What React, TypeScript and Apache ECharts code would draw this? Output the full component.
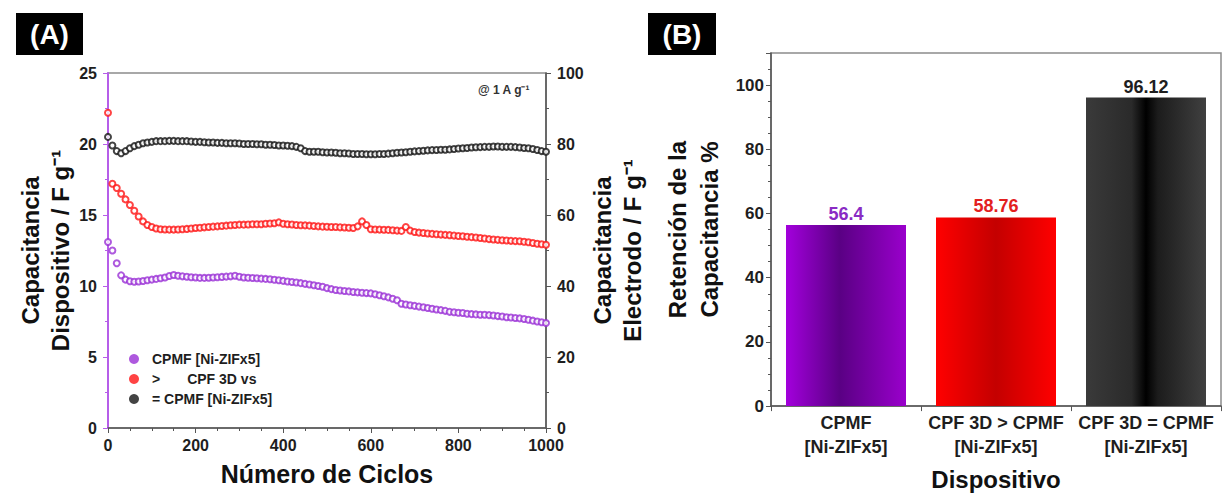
import React, { useEffect, useRef } from 'react';
import * as echarts from 'echarts';

// ---------- DATA ----------
const cycles = Array.from({ length: 101 }, (_, i) => i * 10);

// Device capacitance (F g-1), left axis — purple series
const cpmfNiZif = [
  13.1, 12.5, 11.6, 10.75, 10.45, 10.33, 10.3, 10.32, 10.35, 10.4,
  10.45, 10.5, 10.55, 10.6, 10.7, 10.78, 10.72, 10.68, 10.65, 10.62,
  10.6, 10.57, 10.57, 10.58, 10.6, 10.62, 10.64, 10.66, 10.68, 10.72,
  10.65, 10.6, 10.58, 10.56, 10.55, 10.52, 10.5, 10.47, 10.44, 10.4,
  10.36, 10.32, 10.28, 10.25, 10.2, 10.15, 10.1, 10.05, 10.0, 9.95,
  9.85, 9.78, 9.72, 9.68, 9.65, 9.62, 9.58, 9.55, 9.52, 9.5,
  9.48, 9.42, 9.35, 9.28, 9.2, 9.1, 9.0, 8.75, 8.7, 8.65,
  8.6, 8.55, 8.5, 8.45, 8.4, 8.35, 8.3, 8.25, 8.18, 8.15,
  8.12, 8.1, 8.05, 8.02, 8.0, 7.98, 7.97, 7.95, 7.92, 7.88,
  7.85, 7.8, 7.78, 7.75, 7.72, 7.68, 7.62, 7.56, 7.5, 7.45,
  7.4,
];

// red series
const cpf3dVs = [
  22.2, 17.2, 16.9, 16.5, 16.1, 15.7, 15.3, 14.9, 14.55, 14.3,
  14.15, 14.05, 14.0, 13.98, 13.97, 13.97, 13.98, 14.0, 14.02, 14.05,
  14.08, 14.1, 14.13, 14.15, 14.18, 14.2, 14.22, 14.25, 14.28, 14.3,
  14.32, 14.32, 14.33, 14.35, 14.35, 14.35, 14.38, 14.4, 14.42, 14.48,
  14.38, 14.35, 14.33, 14.3, 14.28, 14.27, 14.25, 14.23, 14.2, 14.18,
  14.17, 14.15, 14.15, 14.13, 14.12, 14.1, 14.08, 14.2, 14.55, 14.3,
  14.0, 13.98, 13.97, 13.96, 13.95, 13.93, 13.9, 13.88, 14.15, 13.9,
  13.8, 13.76, 13.73, 13.7, 13.67, 13.64, 13.62, 13.6, 13.58, 13.55,
  13.52, 13.5, 13.47, 13.44, 13.42, 13.38, 13.34, 13.3, 13.28, 13.25,
  13.22, 13.2, 13.18, 13.16, 13.15, 13.12, 13.08, 13.03, 12.98, 12.94,
  12.9,
];

// black series
const cpf3dEq = [
  20.5, 19.9, 19.5, 19.35, 19.5, 19.7, 19.85, 19.95, 20.05, 20.1,
  20.15, 20.2, 20.2, 20.2, 20.22, 20.22, 20.2, 20.2, 20.2, 20.18,
  20.15, 20.15, 20.12, 20.1, 20.1, 20.08, 20.08, 20.05, 20.05, 20.05,
  20.03, 20.0, 20.0, 20.0, 19.98, 19.98, 19.95, 19.95, 19.93, 19.9,
  19.9, 19.88, 19.85, 19.8, 19.7, 19.5, 19.45, 19.45, 19.45, 19.42,
  19.4, 19.4, 19.38, 19.35, 19.35, 19.33, 19.3, 19.3, 19.3, 19.28,
  19.28, 19.28, 19.3, 19.3, 19.32, 19.35, 19.38, 19.4, 19.42, 19.45,
  19.48, 19.5, 19.52, 19.55, 19.57, 19.58, 19.6, 19.6, 19.62, 19.65,
  19.68, 19.7, 19.72, 19.75, 19.77, 19.78, 19.8, 19.8, 19.82, 19.82,
  19.8, 19.8, 19.8, 19.78, 19.75, 19.72, 19.7, 19.65, 19.58, 19.5,
  19.45,
];

const seriesNames = ['CPMF [Ni-ZIFx5]', '>      CPF 3D vs', '= CPMF [Ni-ZIFx5]'];

const devices = ['CPMF\n[Ni-ZIFx5]', 'CPF 3D > CPMF\n[Ni-ZIFx5]', 'CPF 3D = CPMF\n[Ni-ZIFx5]'];
const retention = [56.4, 58.76, 96.12];

// ---------- STYLE ----------
const FONT = '"Liberation Sans", Arial, Helvetica, sans-serif';
const PURPLE = '#9a2fd6';
const RED = '#ff1414';
const BLACK = '#141414';
const AXIS_PURPLE = '#b65ee9';
const AX = '#555555';
const TXT = '#1e1e1e';

const grad = (stops: [number, string][]) =>
  new echarts.graphic.LinearGradient(0, 0, 1, 0, stops.map(([offset, color]) => ({ offset, color })));

const barGradients = [
  grad([[0, '#a300dc'], [0.45, '#5a0084'], [1, '#9a00cc']]),
  grad([[0, '#ff0000'], [0.5, '#c40000'], [1, '#ff0000']]),
  grad([[0, '#3a3a3a'], [0.38, '#2a2a2a'], [0.5, '#000000'], [0.6, '#1c1c1c'], [1, '#404040']]),
];
const barLabelColors = ['#8a2bc4', '#e3201e', '#1e1e1e'];

const tickLabel = { fontSize: 16, fontWeight: 'bold' as const, color: TXT, fontFamily: FONT };
const axisTitle = { fontSize: 24, fontWeight: 'bold' as const, color: '#111', fontFamily: FONT, lineHeight: 30 };

export default function App() {
  const ref = useRef<HTMLDivElement>(null);

  useEffect(() => {
    if (!ref.current) return;
    const chart = echarts.init(ref.current, undefined, { renderer: 'svg' });

    const pts = (vals: number[]) => cycles.map((c, i) => [c, vals[i]]);
    const scatter = (name: string, vals: number[], color: string) => ({
      name,
      type: 'scatter',
      xAxisIndex: 0,
      yAxisIndex: 0,
      symbol: 'emptyCircle',
      symbolSize: 6,
      itemStyle: { color, borderColor: color, borderWidth: 1.25 },
      data: pts(vals),
    });

    const option: any = {
      animation: false,
      textStyle: { fontFamily: FONT },
      grid: [
        { left: 108, top: 73, width: 438, height: 355, show: true, borderColor: '#8c8c8c', borderWidth: 1.5 },
        { left: 771, top: 53, width: 450, height: 366, show: true, borderColor: '#8c8c8c', borderWidth: 1.5 },
      ],
      legend: {
        orient: 'vertical',
        left: 124,
        top: 347,
        itemWidth: 18,
        itemHeight: 10,
        itemGap: 6,
        data: [
          { name: seriesNames[0], icon: 'circle', itemStyle: { color: PURPLE, borderWidth: 0 } },
          { name: seriesNames[1], icon: 'circle', itemStyle: { color: RED, borderWidth: 0 } },
          { name: seriesNames[2], icon: 'circle', itemStyle: { color: BLACK, borderWidth: 0 } },
        ],
        formatter: (name: string) =>
          name.startsWith('>') ? '{g|>}{s|CPF 3D vs}' : '{n|' + name + '}',
        textStyle: {
          rich: {
            n: { fontSize: 14, fontWeight: 'bold', color: TXT, fontFamily: FONT, padding: [0, 0, 0, 4] },
            g: { fontSize: 14, fontWeight: 'bold', color: TXT, fontFamily: FONT, padding: [0, 0, 0, 4] },
            s: { fontSize: 14, fontWeight: 'bold', color: TXT, fontFamily: FONT, padding: [0, 0, 0, 27] },
          },
        },
      },
      xAxis: [
        {
          type: 'value',
          gridIndex: 0,
          min: 0,
          max: 1000,
          interval: 200,
          axisLine: { show: true, lineStyle: { color: AX, width: 1.5 } },
          axisTick: { show: true, length: 5, lineStyle: { color: AX } },
          minorTick: { show: true, splitNumber: 4, length: 3, lineStyle: { color: AX } },
          splitLine: { show: false },
          axisLabel: { ...tickLabel, margin: 9, formatter: (v: number) => String(v) },
          name: 'Número de Ciclos',
          nameLocation: 'middle',
          nameGap: 31,
          nameTextStyle: { ...axisTitle, fontSize: 25 },
        },
        {
          type: 'category',
          gridIndex: 1,
          data: devices,
          axisLine: { show: true, lineStyle: { color: AX, width: 1.5 } },
          axisTick: { show: true, length: 5, lineStyle: { color: AX } },
          splitLine: { show: false },
          axisLabel: { fontSize: 18, fontWeight: 'bold', color: TXT, fontFamily: FONT, lineHeight: 24, margin: 5, interval: 0 },
          name: 'Dispositivo',
          nameLocation: 'middle',
          nameGap: 55,
          nameTextStyle: { ...axisTitle, fontSize: 24 },
        },
      ],
      yAxis: [
        {
          type: 'value',
          gridIndex: 0,
          min: 0,
          max: 25,
          interval: 5,
          axisLine: { show: true, lineStyle: { color: AXIS_PURPLE, width: 2 } },
          axisTick: { show: true, length: 5, lineStyle: { color: AXIS_PURPLE } },
          minorTick: { show: true, splitNumber: 2, length: 3, lineStyle: { color: AXIS_PURPLE } },
          splitLine: { show: false },
          axisLabel: { ...tickLabel, margin: 11 },
          name: 'Capacitancia\nDispositivo / F g⁻¹',
          nameLocation: 'middle',
          nameRotate: 90,
          nameGap: 31,
          nameTextStyle: axisTitle,
        },
        {
          type: 'value',
          gridIndex: 0,
          position: 'right',
          min: 0,
          max: 100,
          interval: 20,
          axisLine: { show: true, lineStyle: { color: AX, width: 1.5 } },
          axisTick: { show: true, length: 5, lineStyle: { color: AX } },
          minorTick: { show: true, splitNumber: 2, length: 3, lineStyle: { color: AX } },
          splitLine: { show: false },
          axisLabel: { ...tickLabel, margin: 11 },
          name: 'Capacitancia\nElectrodo / F g⁻¹',
          nameLocation: 'middle',
          nameRotate: 90,
          nameGap: 32,
          nameTextStyle: axisTitle,
        },
        {
          type: 'value',
          gridIndex: 1,
          min: 0,
          max: 110,
          interval: 20,
          axisLine: { show: true, lineStyle: { color: AX, width: 1.5 } },
          axisTick: { show: true, length: 5, lineStyle: { color: AX } },
          minorTick: { show: true, splitNumber: 4, length: 3, lineStyle: { color: AX } },
          splitLine: { show: false },
          axisLabel: {
            ...tickLabel,
            fontSize: 17,
            margin: 7,
            formatter: (v: number) => (v > 100 ? '' : String(v)),
          },
          name: 'Retención de la\nCapacitancia %',
          nameLocation: 'middle',
          nameRotate: 90,
          nameGap: 46,
          nameTextStyle: { ...axisTitle, lineHeight: 32 },
        },
      ],
      series: [
        scatter(seriesNames[0], cpmfNiZif, PURPLE),
        scatter(seriesNames[1], cpf3dVs, RED),
        scatter(seriesNames[2], cpf3dEq, BLACK),
        {
          name: 'Retención',
          type: 'bar',
          xAxisIndex: 1,
          yAxisIndex: 2,
          barWidth: '80%',
          data: retention.map((v, i) => ({
            value: v,
            itemStyle: { color: barGradients[i] },
            label: { color: barLabelColors[i] },
          })),
          label: {
            show: true,
            position: 'top',
            distance: 2,
            fontSize: 18,
            fontWeight: 'bold',
            fontFamily: FONT,
          },
        },
      ],
      graphic: [
        { type: 'rect', left: 16, top: 13, shape: { width: 67, height: 42 }, style: { fill: '#000' } },
        {
          type: 'text',
          x: 49.5,
          y: 34,
          style: { text: '(A)', fill: '#fff', font: 'bold 28px ' + FONT, align: 'center', verticalAlign: 'middle' },
        },
        { type: 'rect', left: 648, top: 13, shape: { width: 68, height: 42 }, style: { fill: '#000' } },
        {
          type: 'text',
          x: 682,
          y: 34,
          style: { text: '(B)', fill: '#fff', font: 'bold 28px ' + FONT, align: 'center', verticalAlign: 'middle' },
        },
        {
          type: 'text',
          x: 478,
          y: 90,
          style: { text: '@ 1 A g⁻¹', fill: '#333', font: 'bold 12px ' + FONT, align: 'left', verticalAlign: 'middle' },
        },
      ],
    };

    chart.setOption(option);
    return () => chart.dispose();
  }, []);

  return <div ref={ref} style={{ position: 'absolute', left: 0, top: 0, width: 1222, height: 499 }} />;
}
